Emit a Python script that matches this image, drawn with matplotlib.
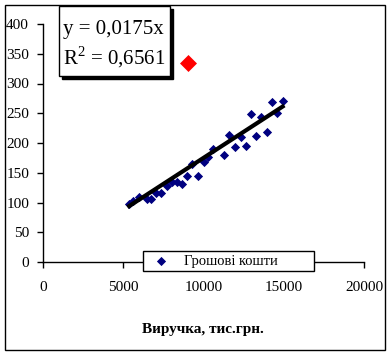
import matplotlib.pyplot as plt
from matplotlib.patches import Rectangle

plt.rcParams['font.family'] = ['Liberation Serif', 'DejaVu Serif']

# revenue (x) vs cash (y)
revenue = [5370, 5620, 6000, 6460, 6710, 7040, 7330, 7700, 8010, 8330,
           8670, 8990, 9300, 9670, 10030, 10290, 10570, 11290, 11600, 11960,
           12330, 12620, 12970, 13260, 13590, 13970, 14280, 14610, 14930]
cash = [97, 103, 109, 106, 106, 116, 116, 127, 134, 135,
        131, 144, 165, 144, 168, 176, 190, 180, 213, 193,
        210, 195, 248, 212, 243, 218, 269, 250, 271]
outlier_x = [9030]
outlier_y = [335]
slope = 0.0175
series_label = 'Грошові кошти'
eq_text = 'y = 0,0175x'
r2_text = r'R$^\mathregular{2}$ = 0,6561'
xlabel = 'Виручка, тис.грн.'

W, H = 391, 355
fig = plt.figure(figsize=(W / 100, H / 100), dpi=100)
fig.patch.set_facecolor('white')

# outer border
fig.patches.append(Rectangle((5 / W, 1 - 350 / H), 380 / W, 345 / H,
                             transform=fig.transFigure, fill=False,
                             edgecolor='black', linewidth=1))

ax = fig.add_axes([43 / W, 1 - 262 / H, 321 / W, 238 / H])
ax.set_xlim(0, 20000)
ax.set_ylim(0, 400)
for s in ['top', 'right']:
    ax.spines[s].set_visible(False)
ax.spines['left'].set_linewidth(1)
ax.spines['bottom'].set_linewidth(1)
ax.set_xticks(range(0, 20001, 5000))
ax.set_yticks(range(0, 401, 50))
ax.tick_params(axis='both', direction='out', length=4, width=1, labelsize=11)
ax.tick_params(axis='x', pad=10)
ax.tick_params(axis='y', pad=6)

pts = ax.scatter(revenue, cash, marker='D', s=22, color='#000080',
                 linewidths=0, zorder=3, label=series_label)
ax.scatter(outlier_x, outlier_y, marker='D', s=75, color='#ff0000',
           linewidths=0, zorder=3)

xs = [min(revenue), max(revenue)]
ax.plot(xs, [slope * v for v in xs], color='black', linewidth=3, zorder=4)

fig.text(203 / W, 1 - 329 / H, xlabel, fontsize=11, fontweight='bold',
         ha='center', va='center')

leg = ax.legend(handles=[pts], bbox_to_anchor=(143 / W, 1 - 271 / H, 171 / W, 20 / H),
                bbox_transform=fig.transFigure, mode='expand', loc='center',
                frameon=True, fancybox=False, edgecolor='black', framealpha=1,
                fontsize=10.5, handletextpad=0.6, borderpad=0.2,
                borderaxespad=0, scatterpoints=1)
leg.get_frame().set_linewidth(1)
leg.set_zorder(10)

# equation box with shadow
fig.patches.append(Rectangle((62 / W, 1 - 79 / H), 111 / W, 70 / H,
                             transform=fig.transFigure, facecolor='black',
                             edgecolor='black', zorder=20))
fig.patches.append(Rectangle((59 / W, 1 - 76 / H), 111 / W, 70 / H,
                             transform=fig.transFigure, facecolor='white',
                             edgecolor='black', linewidth=1, zorder=21))
fig.text(63 / W, 1 - 34 / H, eq_text, fontsize=15, zorder=22, va='baseline')
fig.text(63 / W, 1 - 64 / H, r2_text, fontsize=15, zorder=22, va='baseline')

fig.savefig('out.png', dpi=100)
